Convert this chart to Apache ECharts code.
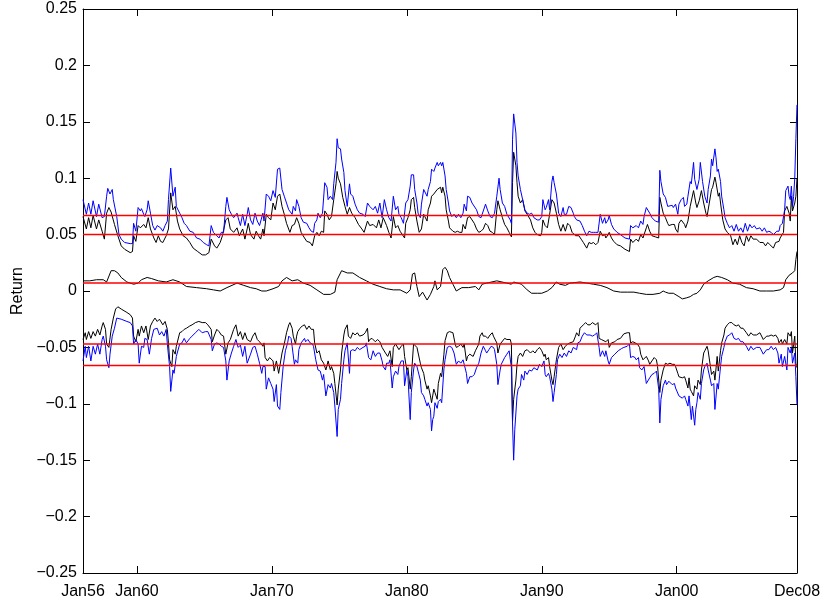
<!DOCTYPE html>
<html>
<head>
<meta charset="utf-8">
<title>Return</title>
<script src="https://cdn.jsdelivr.net/npm/echarts@6/dist/echarts.min.js"></script>
<style>
  html, body { margin: 0; padding: 0; background: #fff; }
  #chart { width: 824px; height: 600px; }
</style>
</head>
<body>
<div id="chart"></div>
<script>
// x values are month indexes counted from Jan 1956 (0) to Dec 2008 (635)
const tickMonths = [0, 48, 168, 288, 408, 528, 635];
const tickNames = ["Jan56", "Jan60", "Jan70", "Jan80", "Jan90", "Jan00", "Dec08"];

// horizontal reference levels (red)
const meanLevels = [0.067, 0.050, 0.007, -0.047, -0.066];

// [month, return]
const blueUpper = [
  [0,.081],[3,.068],[5,.078],[7,.068],[9,.080],[12,.066],[14,.077],[17,.065],[19,.066],[21,.084],[22,.091],[24,.086],[26,.090],[27,.081],[30,.066],[32,.050],[34,.046],[37,.043],[42,.042],[44,.042],[45,.060],[47,.053],[49,.074],[51,.071],[52,.073],[54,.068],[55,.066],[57,.072],[58,.080],[60,.069],
  [62,.058],[64,.054],[66,.058],[69,.056],[71,.053],[73,.058],[75,.062],[76,.081],[78,.109],[80,.084],[82,.092],[83,.075],[86,.069],[88,.065],[90,.060],[92,.058],[95,.053],[98,.052],[101,.047],[104,.046],[107,.043],[110,.041],[112,.040],[114,.058],[116,.052],[119,.049],[121,.047],[123,.052],[125,.052],[127,.075],
  [128,.083],[130,.072],[132,.068],[134,.065],[137,.069],[138,.065],[140,.058],[142,.068],[144,.058],[146,.068],[147,.074],[149,.063],[151,.059],[153,.069],[155,.062],[157,.058],[160,.069],[161,.062],[163,.086],[165,.084],[167,.080],[169,.089],[171,.083],[173,.108],[175,.109],[177,.090],[179,.084],[181,.078],[183,.072],[186,.068],
  [187,.075],[189,.071],[190,.081],[192,.075],[194,.065],[196,.061],[199,.060],[201,.056],[203,.053],[205,.052],[206,.060],[208,.063],[209,.069],[211,.065],[213,.069],[215,.096],[217,.092],[218,.081],[220,.084],[222,.081],[223,.095],[225,.114],[226,.135],[227,.127],[229,.126],[230,.117],[232,.105],[233,.089],[235,.075],[237,.095],
  [238,.086],[240,.084],[242,.077],[244,.072],[246,.069],[249,.068],[251,.066],[253,.078],[255,.075],[258,.072],[260,.075],[262,.069],[264,.078],[266,.065],[268,.081],[270,.072],[272,.065],[274,.062],[276,.084],[278,.072],[280,.075],[281,.068],[283,.065],[285,.060],[287,.078],[289,.081],[291,.093],[292,.103],[294,.103],[295,.090],
  [297,.078],[298,.069],[300,.065],[301,.077],[303,.090],[304,.089],[306,.084],[307,.090],[309,.097],[310,.108],[312,.106],[313,.109],[315,.114],[316,.111],[318,.114],[319,.111],[320,.114],[322,.102],[323,.090],[325,.078],[326,.071],[328,.066],[330,.068],[332,.065],[334,.068],[336,.065],[338,.069],[339,.077],[341,.071],[342,.084],
  [344,.083],[346,.078],[347,.078],[350,.072],[352,.066],[354,.065],[355,.068],[358,.077],[360,.071],[362,.066],[364,.065],[366,.069],[368,.084],[370,.100],[371,.090],[373,.078],[375,.075],[377,.068],[380,.063],[381,.060],[382,.134],[383,.157],[385,.140],[386,.114],[387,.102],[389,.090],[391,.081],[393,.072],[395,.069],[397,.068],
  [399,.069],[401,.065],[404,.063],[406,.063],[408,.066],[409,.081],[411,.072],[412,.074],[414,.081],[415,.072],[417,.097],[418,.102],[419,.096],[421,.086],[423,.069],[425,.066],[427,.074],[428,.068],[430,.068],[432,.075],[434,.074],[436,.069],[437,.066],[439,.063],[442,.062],[444,.058],[446,.053],[448,.049],[450,.053],[452,.052],
  [454,.052],[456,.052],[458,.052],[460,.068],[462,.060],[464,.065],[465,.060],[467,.063],[468,.067],[470,.059],[472,.055],[475,.052],[478,.050],[482,.047],[486,.046],[487,.058],[489,.056],[492,.058],[494,.056],[496,.062],[498,.059],[499,.066],[501,.074],[502,.075],[504,.069],[506,.065],[509,.062],[512,.061],[513,.107],[514,.097],
  [516,.086],[518,.083],[520,.075],[521,.074],[524,.076],[525,.074],[527,.077],[529,.068],[530,.077],[532,.081],[534,.083],[535,.075],[537,.077],[538,.084],[540,.097],[541,.095],[543,.114],[544,.099],[546,.090],[548,.099],[549,.114],[551,.097],[553,.084],[555,.078],[556,.090],[558,.102],[559,.117],[560,.111],[562,.126],[563,.118],
  [564,.106],[565,.108],[567,.097],[568,.084],[570,.072],[571,.065],[573,.060],[575,.056],[577,.058],[579,.053],[581,.059],[583,.053],[585,.056],[587,.052],[589,.060],[591,.053],[593,.059],[595,.056],[597,.058],[599,.055],[602,.056],[604,.053],[606,.056],[608,.052],[610,.053],[612,.052],[614,.050],[617,.053],[619,.053],[620,.058],
  [622,.060],[624,.072],[625,.089],[627,.093],[628,.084],[629,.081],[630,.093],[631,.075],[632,.084],[633,.100],[634,.135],[635,.165]
];

const blackUpper = [
  [0,.066],[3,.055],[5,.065],[7,.056],[9,.067],[12,.055],[14,.063],[17,.053],[19,.046],[21,.069],[23,.074],[25,.070],[26,.071],[28,.059],[31,.049],[34,.040],[37,.037],[42,.034],[44,.035],[45,.049],[47,.044],[49,.058],[51,.056],[54,.059],[56,.056],[58,.065],[60,.055],[63,.047],[65,.043],[67,.049],
  [69,.044],[71,.043],[74,.049],[76,.055],[78,.087],[80,.072],[82,.075],[84,.062],[86,.055],[89,.049],[92,.047],[95,.043],[98,.038],[102,.035],[106,.032],[109,.032],[112,.034],[114,.046],[117,.040],[119,.038],[122,.043],[124,.049],[127,.063],[129,.065],[131,.055],[134,.052],[137,.056],[139,.049],[142,.055],[144,.046],
  [146,.055],[147,.060],[149,.050],[152,.046],[154,.053],[156,.049],[158,.046],[160,.055],[161,.049],[163,.068],[165,.065],[167,.063],[169,.078],[171,.072],[173,.084],[175,.086],[177,.075],[179,.068],[181,.060],[184,.052],[186,.058],[188,.059],[190,.065],[192,.060],[194,.052],[197,.047],[199,.044],[202,.043],[204,.040],[206,.049],
  [208,.052],[210,.049],[212,.053],[214,.052],[215,.071],[217,.068],[219,.063],[221,.066],[223,.081],[225,.095],[226,.106],[227,.100],[229,.095],[231,.083],[233,.075],[235,.068],[237,.074],[239,.069],[242,.065],[245,.059],[248,.055],[250,.052],[253,.062],[255,.058],[258,.059],[261,.056],[263,.063],[265,.056],[267,.065],[270,.058],
  [272,.052],[274,.047],[276,.066],[278,.056],[280,.058],[282,.053],[284,.050],[286,.047],[287,.060],[289,.065],[291,.072],[292,.081],[294,.083],[295,.074],[297,.062],[299,.052],[301,.055],[303,.068],[304,.066],[306,.062],[307,.072],[309,.078],[310,.084],[312,.086],[313,.087],[315,.090],[318,.092],[319,.087],[320,.092],[322,.084],
  [323,.072],[325,.062],[326,.056],[329,.053],[331,.052],[333,.053],[335,.052],[337,.052],[338,.059],[340,.055],[342,.065],[344,.066],[346,.063],[348,.060],[350,.055],[352,.052],[354,.053],[356,.055],[358,.060],[360,.058],[362,.053],[364,.052],[366,.050],[368,.072],[369,.080],[371,.072],[373,.065],[375,.059],[377,.056],[379,.052],
  [381,.048],[382,.096],[383,.123],[385,.111],[386,.096],[387,.084],[389,.078],[391,.081],[393,.071],[395,.068],[398,.063],[400,.056],[402,.052],[404,.050],[407,.049],[408,.052],[409,.063],[411,.058],[413,.056],[415,.068],[417,.081],[419,.078],[421,.069],[423,.059],[425,.053],[427,.059],[429,.053],[431,.060],[433,.058],[435,.052],
  [438,.049],[441,.049],[443,.046],[445,.043],[448,.038],[450,.043],[452,.042],[454,.043],[456,.041],[458,.043],[460,.053],[462,.049],[464,.050],[465,.047],[467,.050],[468,.052],[470,.047],[472,.044],[475,.041],[478,.040],[482,.037],[486,.035],[487,.046],[489,.043],[492,.046],[494,.044],[496,.050],[498,.047],[501,.056],[502,.059],
  [504,.053],[506,.049],[509,.048],[512,.047],[513,.083],[514,.078],[516,.069],[518,.065],[520,.060],[521,.058],[524,.059],[526,.059],[527,.055],[529,.052],[530,.060],[532,.063],[535,.059],[536,.056],[538,.062],[540,.075],[541,.074],[543,.089],[545,.078],[546,.074],[548,.080],[550,.089],[552,.078],[554,.069],[555,.066],[557,.078],
  [559,.090],[560,.092],[562,.101],[563,.096],[565,.084],[566,.087],[567,.078],[569,.063],[571,.055],[573,.052],[576,.049],[578,.041],[580,.046],[582,.041],[584,.049],[586,.043],[588,.040],[590,.049],[592,.044],[594,.049],[596,.046],[599,.046],[602,.043],[605,.043],[607,.040],[609,.043],[611,.041],[614,.038],[616,.043],[619,.044],
  [620,.047],[623,.052],[624,.071],[626,.075],[628,.069],[629,.062],[630,.084],[631,.071],[633,.078],[634,.084],[635,.100]
];

const blackMiddle = [
  [0,.009],[6,.009],[12,.010],[18,.010],[21,.008],[25,.018],[28,.018],[31,.016],[34,.012],[39,.008],[45,.006],[49,.007],[52,.010],[57,.012],[61,.011],[67,.009],[74,.008],[80,.010],[86,.008],[92,.004],[101,.003],[110,.002],[116,.001],[122,.000],[128,.003],[137,.007],[143,.005],[149,.003],[154,.002],[159,.000],
  [163,.000],[169,.002],[174,.004],[177,.009],[181,.012],[186,.009],[191,.010],[196,.007],[202,.005],[208,.001],[214,-.003],[220,-.003],[224,-.001],[226,.010],[230,.018],[235,.016],[240,.016],[246,.012],[252,.009],[258,.006],[264,.004],[270,.002],[276,.001],[282,.001],[288,-.002],[291,.001],[293,.015],[295,.016],[297,.004],[299,-.005],
  [302,-.001],[306,-.008],[309,-.003],[312,.004],[313,.009],[315,.001],[318,.004],[320,.019],[322,.021],[324,.018],[326,.012],[329,.006],[332,.000],[337,.003],[343,.003],[349,.004],[352,.001],[355,.006],[359,.007],[368,.009],[377,.007],[381,.006],[383,.008],[390,.006],[395,.001],[399,-.002],[404,-.002],[408,-.002],[413,.000],[417,.003],
  [421,.008],[424,.006],[429,.005],[433,.007],[442,.008],[448,.007],[454,.006],[460,.005],[466,.003],[472,.000],[478,-.001],[484,-.001],[490,-.001],[495,-.002],[501,-.003],[507,-.003],[513,-.002],[516,.000],[518,-.001],[521,-.002],[525,-.002],[530,-.005],[533,-.007],[537,-.006],[540,-.005],[543,-.003],[546,-.002],[549,.001],[552,.006],[556,.009],
  [561,.012],[564,.013],[568,.012],[573,.010],[578,.007],[584,.006],[590,.003],[596,.002],[602,.000],[608,.000],[614,.000],[620,.001],[623,.003],[625,.010],[628,.014],[631,.016],[633,.018],[634,.028],[635,.035]
];

const blackLower = [
  [0,-.043],[2,-.037],[3,-.043],[5,-.036],[7,-.042],[9,-.036],[11,-.040],[13,-.034],[15,-.039],[17,-.031],[18,-.028],[20,-.034],[21,-.047],[23,-.050],[25,-.034],[27,-.024],[29,-.016],[31,-.014],[34,-.016],[39,-.019],[42,-.021],[44,-.024],[45,-.040],[47,-.045],[49,-.034],[50,-.040],[52,-.031],[54,-.037],[56,-.031],[58,-.043],
  [60,-.031],[62,-.027],[64,-.024],[66,-.027],[68,-.025],[71,-.030],[73,-.027],[75,-.034],[76,-.046],[77,-.061],[79,-.067],[80,-.052],[82,-.056],[83,-.049],[86,-.037],[88,-.036],[90,-.034],[92,-.033],[95,-.031],[97,-.030],[100,-.028],[103,-.027],[106,-.028],[109,-.028],[111,-.030],[114,-.034],[115,-.045],[117,-.039],[119,-.034],[121,-.036],
  [123,-.039],[125,-.040],[127,-.056],[129,-.046],[131,-.043],[134,-.034],[136,-.030],[138,-.040],[140,-.036],[142,-.043],[144,-.037],[146,-.043],[149,-.045],[151,-.040],[153,-.037],[155,-.043],[157,-.045],[160,-.049],[161,-.046],[162,-.059],[164,-.062],[166,-.059],[169,-.062],[170,-.071],[172,-.062],[174,-.073],[175,-.067],[177,-.055],[179,-.047],[181,-.037],
  [183,-.030],[184,-.028],[186,-.033],[187,-.040],[189,-.047],[190,-.040],[191,-.036],[193,-.033],[195,-.031],[197,-.030],[199,-.034],[201,-.031],[203,-.034],[205,-.034],[206,-.046],[208,-.055],[210,-.053],[212,-.061],[214,-.064],[216,-.070],[218,-.062],[220,-.070],[221,-.067],[223,-.073],[224,-.082],[226,-.101],[227,-.087],[229,-.070],[230,-.055],[232,-.039],
  [233,-.034],[235,-.030],[236,-.040],[238,-.042],[240,-.037],[242,-.039],[244,-.037],[246,-.040],[249,-.039],[251,-.037],[253,-.033],[254,-.045],[255,-.043],[257,-.042],[260,-.045],[262,-.043],[264,-.045],[266,-.050],[269,-.055],[271,-.058],[273,-.053],[275,-.067],[276,-.050],[278,-.047],[281,-.052],[283,-.049],[285,-.047],[286,-.058],[288,-.070],[289,-.068],
  [291,-.087],[292,-.076],[294,-.047],[295,-.046],[297,-.050],[298,-.050],[300,-.064],[301,-.068],[303,-.073],[304,-.079],[306,-.087],[307,-.084],[309,-.093],[310,-.099],[312,-.087],[313,-.090],[315,-.096],[316,-.082],[318,-.073],[319,-.076],[321,-.056],[322,-.044],[324,-.037],[326,-.036],[329,-.037],[331,-.047],[332,-.050],[334,-.049],[336,-.047],[338,-.050],
  [339,-.047],[341,-.062],[342,-.058],[344,-.056],[347,-.058],[349,-.053],[350,-.052],[352,-.047],[353,-.040],[355,-.037],[356,-.040],[358,-.040],[360,-.042],[362,-.039],[364,-.037],[365,-.040],[366,-.039],[368,-.046],[369,-.055],[371,-.047],[372,-.046],[375,-.042],[377,-.043],[378,-.042],[380,-.043],[381,-.047],[382,-.116],[383,-.096],[385,-.079],[386,-.065],
  [387,-.058],[389,-.055],[391,-.058],[393,-.053],[395,-.052],[398,-.055],[400,-.053],[402,-.055],[404,-.052],[406,-.050],[408,-.053],[410,-.058],[411,-.056],[412,-.061],[414,-.059],[415,-.067],[417,-.079],[418,-.083],[419,-.076],[421,-.061],[423,-.050],[425,-.047],[427,-.052],[429,-.049],[431,-.047],[433,-.046],[436,-.045],[438,-.040],[439,-.037],[441,-.040],
  [442,-.033],[445,-.030],[447,-.028],[449,-.030],[451,-.030],[453,-.028],[456,-.030],[458,-.028],[459,-.042],[461,-.043],[462,-.042],[465,-.045],[467,-.043],[468,-.050],[470,-.046],[473,-.045],[475,-.043],[478,-.042],[481,-.038],[484,-.037],[486,-.037],[487,-.046],[489,-.045],[491,-.046],[493,-.047],[495,-.050],[496,-.056],[498,-.061],[499,-.062],[501,-.058],
  [503,-.062],[504,-.065],[506,-.062],[508,-.059],[510,-.061],[511,-.067],[513,-.090],[514,-.079],[516,-.070],[518,-.064],[520,-.065],[522,-.064],[524,-.065],[526,-.065],[527,-.067],[529,-.073],[530,-.076],[533,-.077],[535,-.076],[536,-.079],[538,-.086],[539,-.077],[540,-.087],[541,-.089],[543,-.093],[544,-.084],[546,-.087],[547,-.079],[549,-.083],[550,-.070],
  [552,-.055],[553,-.053],[555,-.049],[556,-.053],[558,-.067],[559,-.074],[561,-.071],[562,-.079],[564,-.058],[565,-.071],[567,-.053],[568,-.046],[570,-.039],[571,-.033],[573,-.030],[575,-.028],[577,-.028],[579,-.030],[581,-.031],[583,-.030],[585,-.033],[587,-.033],[590,-.037],[592,-.040],[594,-.037],[596,-.039],[599,-.039],[602,-.037],[605,-.043],[608,-.040],
  [610,-.040],[612,-.039],[614,-.040],[616,-.039],[618,-.042],[619,-.046],[621,-.043],[622,-.047],[624,-.043],[626,-.047],[627,-.037],[629,-.040],[630,-.036],[631,-.055],[633,-.040],[634,-.064],[635,-.068]
];

const blueLower = [
  [0,-.062],[2,-.049],[3,-.059],[5,-.049],[7,-.062],[9,-.049],[11,-.056],[13,-.047],[15,-.056],[17,-.043],[18,-.040],[20,-.049],[21,-.061],[23,-.068],[24,-.056],[26,-.040],[28,-.033],[30,-.024],[31,-.023],[34,-.025],[39,-.027],[42,-.028],[44,-.031],[45,-.047],[47,-.043],[49,-.047],[50,-.064],[52,-.049],[54,-.050],[55,-.042],
  [57,-.043],[59,-.056],[61,-.042],[63,-.034],[66,-.033],[68,-.039],[70,-.036],[72,-.040],[74,-.034],[75,-.047],[77,-.067],[78,-.089],[80,-.070],[81,-.073],[83,-.058],[86,-.047],[88,-.046],[90,-.042],[92,-.046],[95,-.042],[97,-.040],[100,-.037],[103,-.034],[106,-.037],[109,-.036],[111,-.036],[114,-.043],[115,-.053],[117,-.047],[119,-.046],
  [121,-.047],[123,-.049],[125,-.050],[127,-.062],[128,-.079],[130,-.062],[132,-.055],[134,-.049],[136,-.043],[138,-.050],[140,-.048],[142,-.058],[144,-.049],[146,-.064],[149,-.056],[151,-.050],[153,-.049],[155,-.056],[157,-.064],[159,-.073],[160,-.067],[162,-.067],[163,-.087],[165,-.077],[167,-.082],[169,-.087],[170,-.098],[172,-.083],[173,-.102],[175,-.105],
  [176,-.090],[178,-.067],[180,-.053],[182,-.046],[183,-.040],[185,-.042],[186,-.049],[188,-.065],[189,-.061],[191,-.064],[192,-.052],[194,-.046],[197,-.042],[198,-.045],[200,-.043],[202,-.046],[204,-.047],[205,-.049],[207,-.061],[209,-.070],[211,-.071],[213,-.079],[214,-.074],[216,-.093],[218,-.083],[220,-.086],[221,-.082],[223,-.090],[224,-.102],[226,-.129],
  [227,-.105],[229,-.096],[230,-.082],[232,-.061],[233,-.053],[235,-.046],[237,-.073],[238,-.053],[240,-.052],[242,-.053],[244,-.050],[246,-.052],[249,-.050],[251,-.049],[252,-.046],[254,-.059],[256,-.061],[258,-.053],[260,-.058],[262,-.055],[264,-.055],[266,-.062],[267,-.067],[269,-.070],[270,-.064],[272,-.064],[273,-.061],[275,-.086],[276,-.076],[278,-.071],
  [280,-.074],[281,-.067],[283,-.062],[285,-.062],[286,-.084],[288,-.070],[289,-.076],[291,-.114],[292,-.090],[294,-.070],[295,-.064],[297,-.067],[298,-.071],[300,-.079],[301,-.090],[303,-.093],[304,-.096],[306,-.102],[307,-.099],[309,-.105],[310,-.124],[311,-.114],[312,-.111],[313,-.099],[315,-.104],[316,-.098],[318,-.096],[319,-.099],[321,-.069],[322,-.061],
  [324,-.050],[326,-.049],[328,-.050],[330,-.055],[332,-.065],[334,-.062],[336,-.064],[338,-.061],[339,-.065],[341,-.073],[342,-.082],[344,-.076],[346,-.076],[348,-.074],[350,-.068],[352,-.064],[354,-.055],[356,-.049],[358,-.053],[359,-.055],[361,-.052],[363,-.049],[365,-.050],[366,-.052],[368,-.065],[369,-.083],[371,-.070],[372,-.065],[375,-.059],[377,-.056],
  [379,-.053],[381,-.068],[382,-.117],[383,-.150],[384,-.123],[386,-.093],[387,-.087],[389,-.084],[390,-.074],[392,-.079],[393,-.071],[395,-.074],[397,-.070],[399,-.071],[401,-.068],[404,-.070],[406,-.065],[408,-.067],[410,-.062],[411,-.074],[412,-.076],[414,-.073],[415,-.076],[417,-.087],[418,-.098],[419,-.090],[421,-.074],[422,-.061],[424,-.056],[426,-.059],
  [428,-.055],[430,-.058],[432,-.053],[434,-.055],[436,-.050],[439,-.052],[440,-.046],[442,-.045],[444,-.040],[446,-.037],[448,-.039],[451,-.039],[453,-.040],[455,-.039],[457,-.037],[459,-.050],[460,-.058],[462,-.053],[464,-.058],[465,-.053],[467,-.062],[468,-.065],[470,-.059],[473,-.056],[476,-.053],[479,-.051],[481,-.050],[484,-.049],[486,-.047],[487,-.059],
  [489,-.058],[491,-.059],[492,-.061],[494,-.059],[495,-.068],[497,-.070],[499,-.067],[501,-.082],[502,-.083],[504,-.077],[506,-.074],[508,-.073],[510,-.071],[512,-.087],[513,-.117],[514,-.096],[516,-.084],[518,-.079],[519,-.083],[521,-.080],[524,-.083],[526,-.082],[527,-.086],[530,-.093],[531,-.093],[533,-.095],[535,-.093],[536,-.096],[538,-.102],[539,-.093],
  [541,-.114],[542,-.102],[544,-.119],[545,-.105],[546,-.099],[547,-.090],[549,-.096],[550,-.082],[552,-.070],[553,-.067],[555,-.064],[556,-.070],[558,-.079],[559,-.084],[561,-.082],[562,-.105],[564,-.082],[565,-.087],[567,-.067],[568,-.058],[570,-.050],[571,-.045],[573,-.040],[575,-.039],[577,-.037],[579,-.042],[581,-.043],[583,-.042],[585,-.045],[587,-.045],
  [590,-.049],[592,-.053],[594,-.049],[596,-.052],[599,-.050],[602,-.050],[605,-.056],[608,-.052],[610,-.052],[612,-.049],[614,-.052],[616,-.050],[618,-.055],[619,-.064],[621,-.056],[622,-.067],[624,-.058],[626,-.070],[627,-.050],[629,-.055],[630,-.050],[631,-.064],[633,-.055],[634,-.076],[635,-.101]
];

const FONT = "'Liberation Sans', Arial, Helvetica, sans-serif";
const FIRST_MONTH = tickMonths[0];
const LAST_MONTH = tickMonths[tickMonths.length - 1];

function lineSeries(data, color, z, width) {
  return {
    type: "line",
    data: data,
    showSymbol: false,
    symbol: "none",
    z: z,
    lineStyle: { color: color, width: width || 1 },
    itemStyle: { color: color },
    silent: true,
  };
}

// axis frame pieces shared by the four sides of the box
const frameLine = { show: true, onZero: false, lineStyle: { color: "#000", width: 1 } };
const tickStyle = { color: "#000", width: 1 };

// each red level spans the whole period
const levelSeries = meanLevels.map((v) =>
  lineSeries([[FIRST_MONTH, v], [LAST_MONTH, v]], "#ff0000", 4, 1.5)
);

const chart = echarts.init(document.getElementById("chart"));

chart.setOption({
  animation: false,
  backgroundColor: "#fff",
  grid: { left: 83, right: 27, top: 9, bottom: 27, containLabel: false },
  xAxis: [
    {
      type: "value",
      position: "bottom",
      min: FIRST_MONTH,
      max: LAST_MONTH,
      axisLine: frameLine,
      axisTick: { show: true, inside: true, length: 7, customValues: tickMonths, lineStyle: tickStyle },
      axisLabel: {
        customValues: tickMonths,
        formatter: (v) => tickNames[tickMonths.indexOf(v)],
        color: "#000",
        fontSize: 16,
        fontFamily: FONT,
        margin: 11,
      },
      splitLine: { show: false },
    },
    {
      type: "value",
      position: "top",
      min: FIRST_MONTH,
      max: LAST_MONTH,
      axisLine: frameLine,
      axisTick: { show: true, inside: true, length: 7, customValues: tickMonths, lineStyle: tickStyle },
      axisLabel: { show: false },
      splitLine: { show: false },
    },
  ],
  yAxis: [
    {
      type: "value",
      position: "left",
      min: -0.25,
      max: 0.25,
      interval: 0.05,
      name: "Return",
      nameLocation: "middle",
      nameGap: 49,
      nameTextStyle: { color: "#000", fontSize: 16, fontFamily: FONT },
      axisLine: frameLine,
      axisTick: { show: true, inside: true, length: 7, lineStyle: tickStyle },
      axisLabel: {
        color: "#000",
        fontSize: 16,
        fontFamily: FONT,
        margin: 6,
        formatter: (v) => String(Math.round(v * 100) / 100).replace("-", "\u2212"),
      },
      splitLine: { show: false },
    },
    {
      type: "value",
      position: "right",
      min: -0.25,
      max: 0.25,
      interval: 0.05,
      axisLine: frameLine,
      axisTick: { show: true, inside: true, length: 7, lineStyle: tickStyle },
      axisLabel: { show: false },
      splitLine: { show: false },
    },
  ],
  series: [
    lineSeries(blackUpper, "#000000", 2),
    lineSeries(blueUpper, "#0000ff", 2),
    lineSeries(blackMiddle, "#000000", 2),
    lineSeries(blackLower, "#000000", 2),
    lineSeries(blueLower, "#0000ff", 2),
  ].concat(levelSeries),
});
</script>
</body>
</html>
